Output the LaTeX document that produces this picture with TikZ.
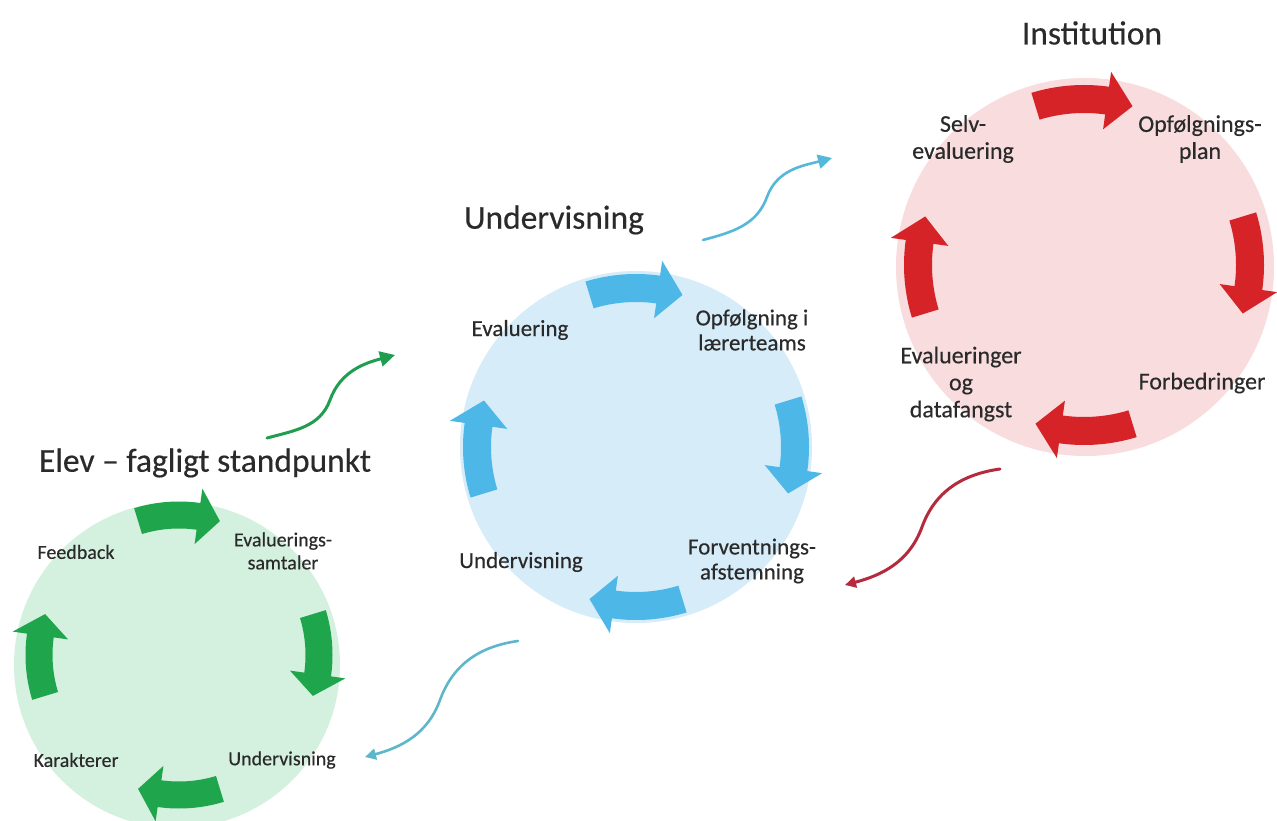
\documentclass[tikz,border=0pt]{standalone}
\usepackage{fontspec}
\setmainfont{Carlito}[BoldFont=Carlito,BoldFeatures={FakeBold=0.35}]
\usetikzlibrary{arrows.meta}
\definecolor{gArrow}{HTML}{1FA64D}
\definecolor{gFill}{HTML}{D4F0DF}
\definecolor{gLine}{HTML}{1E9E4E}
\definecolor{bArrow}{HTML}{4DB8E8}
\definecolor{bFill}{HTML}{D6ECF8}
\definecolor{bLine}{HTML}{56B8D8}
\definecolor{bLineB}{HTML}{5DB7C9}
\definecolor{rArrow}{HTML}{D52328}
\definecolor{rFill}{HTML}{F8DCDE}
\definecolor{rLine}{HTML}{B52B3E}
\definecolor{txt}{HTML}{2A2A2A}
\newcommand\cyclering[6]{%
  \foreach \c in {90,0,-90,180}{%
    \pgfmathsetmacro\aS{\c+17}%
    \pgfmathsetmacro\aB{\c-8}%
    \pgfmathsetmacro\aT{\c-17}%
    \pgfmathsetmacro\rO{#3+#4/2}%
    \pgfmathsetmacro\rI{#3-#4/2}%
    \pgfmathsetmacro\hO{#3+#5/2}%
    \pgfmathsetmacro\hI{#3-#5/2}%
    \fill[#6,shift={(#1,#2)}] (\aS:\rO pt) arc[start angle=\aS,end angle=\aB,radius=\rO pt]
      -- (\aB:\hO pt) -- (\aT:#3 pt) -- (\aB:\hI pt) -- (\aB:\rI pt)
      arc[start angle=\aB,end angle=\aS,radius=\rI pt] -- cycle;
  }}
\tikzset{
  disc/.style={circle,inner sep=0pt,draw=none},
  title/.style={text=txt,font=\fontsize{33.5}{38}\selectfont\bfseries},
  glab/.style={text=txt,align=center,font=\fontsize{20}{23}\selectfont\bfseries},
  blab/.style={text=txt,align=center,font=\fontsize{23}{25}\selectfont\bfseries},
  rlab/.style={text=txt,align=center,font=\fontsize{24}{27}\selectfont\bfseries},
  link/.style={line width=#1,line cap=round},
}
\begin{document}
\begin{tikzpicture}[x=1pt,y=1pt]
\useasboundingbox (0,0) rectangle (1277,820);
\clip (0,0) rectangle (1277,820);
\fill[white] (0,0) rectangle (1277,820);
% circles
\node[disc,fill=gFill,minimum size=326pt] (gcirc) at (177,155) {};
\node[disc,fill=bFill,minimum size=352pt] (bcirc) at (636,373) {};
\node[disc,fill=rFill,minimum size=378pt] (rcirc) at (1085,553) {};
% cycle arrows
\cyclering{179}{165}{140}{27}{56}{gArrow}
\cyclering{636}{373}{159}{28}{58}{bArrow}
\cyclering{1084}{555}{166}{28}{58}{rArrow}
% titles
\node[title] (gtitle) at (205,357) {Elev – fagligt standpunkt};
\node[title] (btitle) at (554,600) {Undervisning};
\node[title] (rtitle) at (1092,787) {Institution};
% green labels
\node[glab] (g1) at (76,268) {Feedback};
\node[glab] (g2) at (283,269) {Evaluerings-\\samtaler};
\node[glab] (g3) at (282,60) {Undervisning};
\node[glab] (g4) at (76,60) {Karakterer};
% blue labels
\node[blab] (b1) at (520,490) {Evaluering};
\node[blab] (b2) at (752,490) {Opfølgning i\\lærerteams};
\node[blab] (b3) at (752,259) {Forventnings-\\afstemning};
\node[blab] (b4) at (521,258) {Undervisning};
% red labels
\node[rlab] (r1) at (963,681) {Selv-\\evaluering};
\node[rlab] (r2) at (1200,681) {Opfølgnings-\\plan};
\node[rlab] (r3) at (961,436) {Evalueringer\\og\\datafangst};
\node[rlab] (r4) at (1202,437) {Forbedringer};
% connector points
\coordinate (gs) at (267,382); \coordinate (gm) at (330,420); \coordinate (ge) at (395,465);
\coordinate (bs) at (703,580); \coordinate (bm) at (767,623); \coordinate (be) at (832,662);
\coordinate (rs) at (1000,351); \coordinate (rm) at (922,293); \coordinate (re) at (845,235);
\coordinate (ds) at (518,179); \coordinate (dm) at (440,120); \coordinate (de) at (365,63);
% connectors
\draw[link=3pt,gLine,-{Triangle[length=15pt,width=15pt]}] (gs) to[out=15,in=250] (gm) to[out=70,in=195] (ge);
\draw[link=2.6pt,bLine,-{Triangle[length=14pt,width=14pt]}] (bs) to[out=15,in=250] (bm) to[out=70,in=195] (be);
\draw[link=3pt,rLine,-{Triangle[length=11pt,width=11pt]}] (rs) to[out=188,in=70] (rm) to[out=250,in=15] (re);
\draw[link=2.6pt,bLineB,-{Triangle[length=11pt,width=11pt]}] (ds) to[out=188,in=70] (dm) to[out=250,in=15] (de);
\end{tikzpicture}
\end{document}
